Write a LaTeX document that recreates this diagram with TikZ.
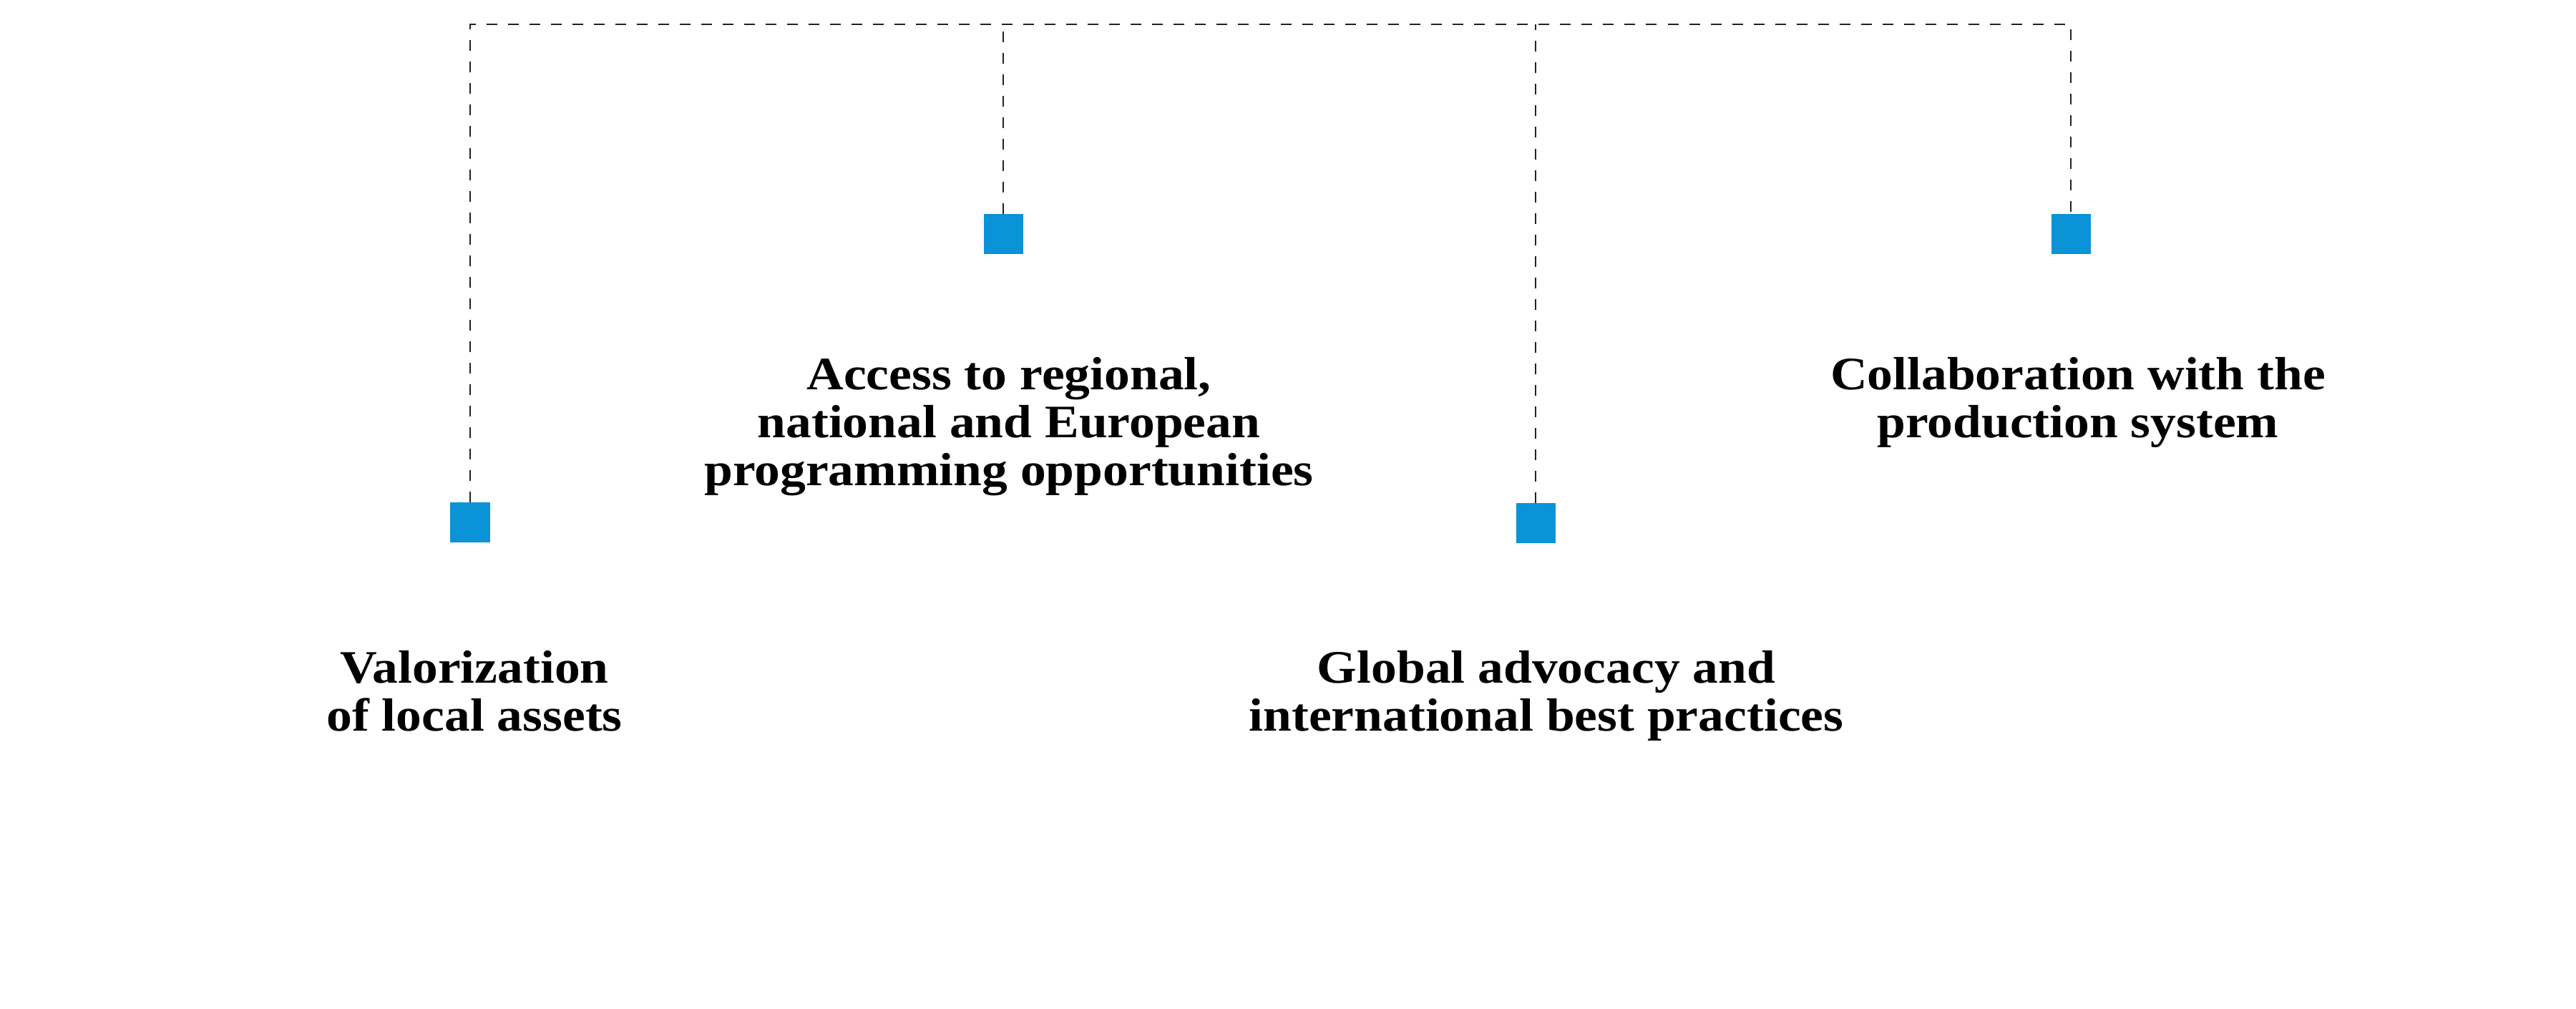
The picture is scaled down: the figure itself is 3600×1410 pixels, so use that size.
\documentclass[tikz,border=0pt]{standalone}
\usepackage{fontspec}
\setmainfont{Liberation Serif}[FakeStretch=1.1]
\definecolor{sqblue}{HTML}{0A93D6}
\definecolor{lngray}{HTML}{222222}
\tikzset{
  sqbox/.style={rectangle, fill=sqblue, draw=none, inner sep=0pt, minimum size=0.55cm},
  lbl/.style={anchor=base, inner sep=0pt, font=\bfseries\fontsize{18.5}{19}\selectfont},
  conn/.style={draw=lngray, line width=0.75pt, dash pattern=on 0.15cm off 0.15cm}
}
\begin{document}
\begin{tikzpicture}[x=0.01cm,y=-0.01cm]
\path[use as bounding box] (0,0) rectangle (3600,1410);
\node[sqbox] (sa) at (657,730) {};
\node[sqbox] (sb) at (1402,327) {};
\node[sqbox] (sc) at (2146,731) {};
\node[sqbox] (sd) at (2894,327) {};
\coordinate (topr) at (2894,34);
\draw[conn] (sa.north) |- (topr) -- (sd.north);
\draw[conn] (sb.north) -- (sb.north |- topr);
\draw[conn] (sc.north) -- (sc.north |- topr);
\node[lbl] (la) at (663,955) {\begin{tabular}[t]{@{}c@{}}Valorization\\of local assets\end{tabular}};
\node[lbl] (lb) at (1410,545) {\begin{tabular}[t]{@{}c@{}}Access to regional,\\national and European\\programming opportunities\end{tabular}};
\node[lbl] (lc) at (2161,955) {\begin{tabular}[t]{@{}c@{}}Global advocacy and\\international best practices\end{tabular}};
\node[lbl] (ld) at (2904,545) {\begin{tabular}[t]{@{}c@{}}Collaboration with the\\production system\end{tabular}};
\end{tikzpicture}
\end{document}
